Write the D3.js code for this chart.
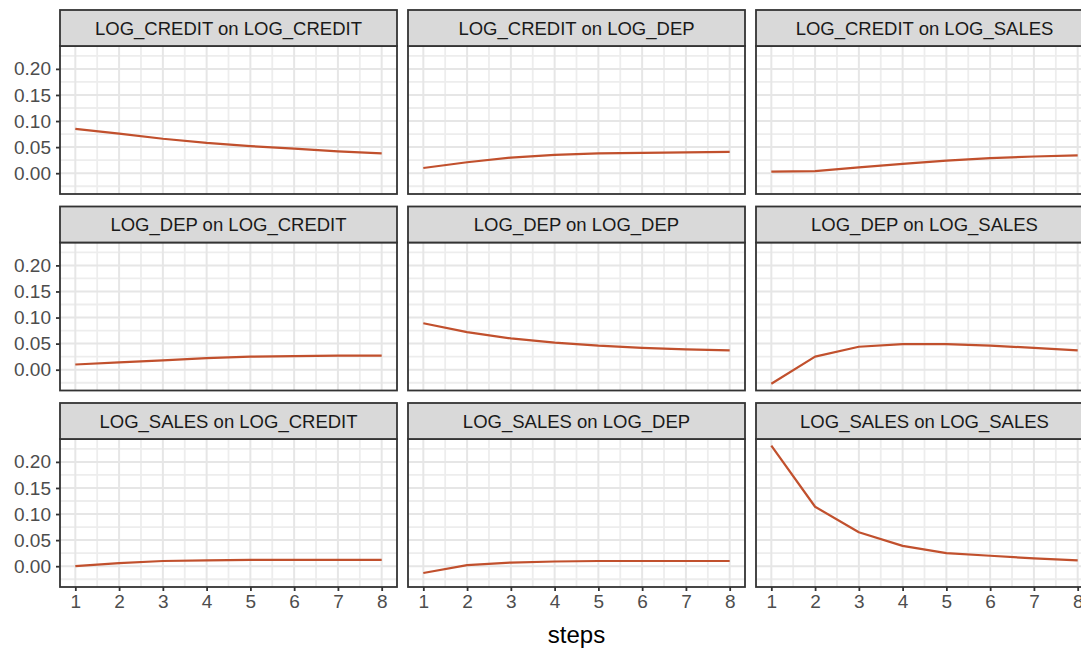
<!DOCTYPE html>
<html>
<head>
<meta charset="utf-8">
<script src="https://cdn.jsdelivr.net/npm/d3@7"></script>
<style>
  html, body { margin: 0; padding: 0; background: #ffffff; overflow: hidden; }
  svg { display: block; }
  text { font-family: "Liberation Sans", Arial, sans-serif; }
</style>
</head>
<body>
<svg id="chart" width="1081" height="648"></svg>
<script>
// Impulse responses over the forecast horizon
const steps = [1, 2, 3, 4, 5, 6, 7, 8];
const xTickLabels = ["1", "2", "3", "4", "5", "6", "7", "8"];
const yTicks = [0.00, 0.05, 0.10, 0.15, 0.20];
const yTickLabels = ["0.00", "0.05", "0.10", "0.15", "0.20"];

const panelTitles = [
  "LOG_CREDIT on LOG_CREDIT", "LOG_CREDIT on LOG_DEP", "LOG_CREDIT on LOG_SALES",
  "LOG_DEP on LOG_CREDIT",    "LOG_DEP on LOG_DEP",    "LOG_DEP on LOG_SALES",
  "LOG_SALES on LOG_CREDIT",  "LOG_SALES on LOG_DEP",  "LOG_SALES on LOG_SALES"
];

const creditOnCredit = [0.085, 0.076, 0.066, 0.058, 0.052, 0.047, 0.042, 0.038];
const creditOnDep    = [0.010, 0.021, 0.030, 0.035, 0.038, 0.039, 0.040, 0.041];
const creditOnSales  = [0.003, 0.004, 0.011, 0.018, 0.024, 0.029, 0.032, 0.034];
const depOnCredit    = [0.010, 0.014, 0.018, 0.022, 0.025, 0.026, 0.027, 0.027];
const depOnDep       = [0.089, 0.072, 0.060, 0.052, 0.046, 0.042, 0.039, 0.037];
const depOnSales     = [-0.027, 0.025, 0.044, 0.049, 0.049, 0.046, 0.042, 0.037];
const salesOnCredit  = [0.000, 0.006, 0.010, 0.011, 0.012, 0.012, 0.012, 0.012];
const salesOnDep     = [-0.013, 0.002, 0.007, 0.009, 0.010, 0.010, 0.010, 0.010];
const salesOnSales   = [0.231, 0.114, 0.065, 0.039, 0.025, 0.020, 0.015, 0.011];

const panelSeries = [
  creditOnCredit, creditOnDep, creditOnSales,
  depOnCredit, depOnDep, depOnSales,
  salesOnCredit, salesOnDep, salesOnSales
];

// Layout of the 3 x 3 facet grid
const colLeft = [60, 408, 756];
const panelW = 337;
const rowTop = [10, 206.5, 403];
const stripH = 36;
const panelH = 148;

const lineColor = "#c1502d";
const borderColor = "#333333";
const tickFont = 19;
const stripFont = 18.5;

const svg = d3.select("#chart");

// Shared scales (fixed across facets), with 5% padding like ggplot
const xExt = d3.extent(steps);
const xPad = (xExt[1] - xExt[0]) * 0.05;
const allVals = panelSeries.flat();
const yExt = d3.extent(allVals);
const yPad = (yExt[1] - yExt[0]) * 0.05;

const xBase = d3.scaleLinear().domain([xExt[0] - xPad, xExt[1] + xPad]).range([0, panelW]);
const yBase = d3.scaleLinear().domain([yExt[0] - yPad, yExt[1] + yPad]).range([panelH, 0]);

const xMinor = d3.range(1.5, 8, 1);
const yMinor = [-0.025, 0.025, 0.075, 0.125, 0.175, 0.225]
  .filter(v => v >= yBase.domain()[0] && v <= yBase.domain()[1]);

panelSeries.forEach((series, i) => {
  const r = Math.floor(i / 3), c = i % 3;
  const px = colLeft[c], py = rowTop[r] + stripH;
  const g = svg.append("g").attr("transform", `translate(${px},${py})`);

  // panel background
  g.append("rect").attr("width", panelW).attr("height", panelH).attr("fill", "#ffffff");

  // minor grid
  g.selectAll(".vmin").data(xMinor).enter().append("line")
    .attr("x1", d => xBase(d)).attr("x2", d => xBase(d))
    .attr("y1", 0).attr("y2", panelH)
    .attr("stroke", "#ededed").attr("stroke-width", 1.8);
  g.selectAll(".hmin").data(yMinor).enter().append("line")
    .attr("y1", d => yBase(d)).attr("y2", d => yBase(d))
    .attr("x1", 0).attr("x2", panelW)
    .attr("stroke", "#ededed").attr("stroke-width", 1.8);

  // major grid
  g.selectAll(".vmaj").data(steps).enter().append("line")
    .attr("x1", d => xBase(d)).attr("x2", d => xBase(d))
    .attr("y1", 0).attr("y2", panelH)
    .attr("stroke", "#e6e6e6").attr("stroke-width", 2);
  g.selectAll(".hmaj").data(yTicks).enter().append("line")
    .attr("y1", d => yBase(d)).attr("y2", d => yBase(d))
    .attr("x1", 0).attr("x2", panelW)
    .attr("stroke", "#e6e6e6").attr("stroke-width", 2);

  // response line
  const line = d3.line().x((d, k) => xBase(steps[k])).y(d => yBase(d));
  g.append("path").datum(series)
    .attr("d", line)
    .attr("fill", "none")
    .attr("stroke", lineColor)
    .attr("stroke-width", 2.2)
    .attr("stroke-linejoin", "round");

  // panel border
  g.append("rect").attr("width", panelW).attr("height", panelH)
    .attr("fill", "none").attr("stroke", borderColor).attr("stroke-width", 1.8);

  // strip
  const s = svg.append("g").attr("transform", `translate(${px},${rowTop[r]})`);
  s.append("rect").attr("width", panelW).attr("height", stripH)
    .attr("fill", "#d9d9d9").attr("stroke", borderColor).attr("stroke-width", 1.8);
  s.append("text")
    .attr("x", panelW / 2).attr("y", stripH / 2)
    .attr("dy", "0.36em")
    .attr("text-anchor", "middle")
    .attr("font-size", stripFont)
    .attr("fill", "#1a1a1a")
    .text(panelTitles[i]);

  // y axis on first column
  if (c === 0) {
    const ax = d3.axisLeft(yBase).tickValues(yTicks)
      .tickFormat((d, k) => yTickLabels[k]).tickSize(4).tickPadding(5);
    const ag = g.append("g").call(ax);
    ag.select(".domain").remove();
    ag.selectAll(".tick line").attr("stroke", borderColor).attr("stroke-width", 1.8);
    ag.selectAll(".tick text").attr("font-size", tickFont).attr("fill", "#4d4d4d")
      .attr("font-family", "'Liberation Sans', Arial, sans-serif");
  }

  // x axis on bottom row
  if (r === 2) {
    const ax = d3.axisBottom(xBase).tickValues(steps)
      .tickFormat((d, k) => xTickLabels[k]).tickSize(4).tickPadding(4);
    const ag = g.append("g").attr("transform", `translate(0,${panelH})`).call(ax);
    ag.select(".domain").remove();
    ag.selectAll(".tick line").attr("stroke", borderColor).attr("stroke-width", 1.8);
    ag.selectAll(".tick text").attr("font-size", tickFont).attr("fill", "#4d4d4d")
      .attr("font-family", "'Liberation Sans', Arial, sans-serif");
  }
});

// axis title
svg.append("text")
  .attr("x", (colLeft[0] + colLeft[2] + panelW) / 2)
  .attr("y", 643)
  .attr("text-anchor", "middle")
  .attr("font-size", 24)
  .attr("fill", "#000000")
  .text("steps");
</script>
</body>
</html>
